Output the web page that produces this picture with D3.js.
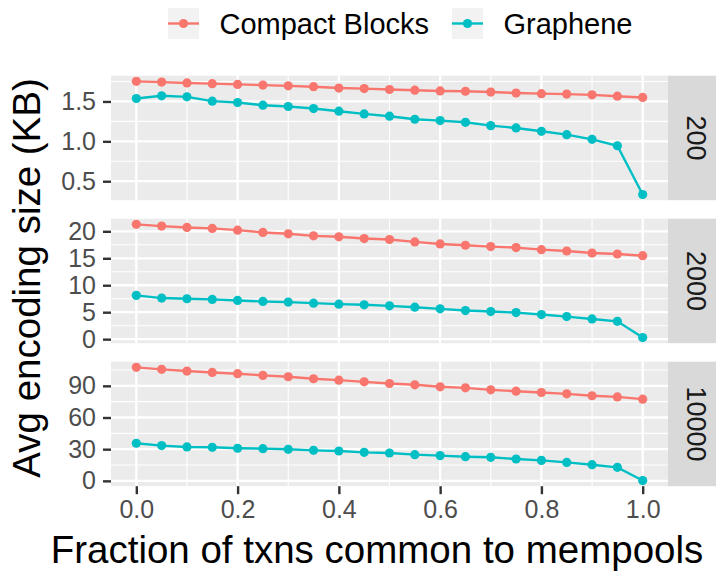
<!DOCTYPE html>
<html>
<head>
<meta charset="utf-8">
<script src="https://cdn.jsdelivr.net/npm/d3@7"></script>
<style>
  html, body { margin: 0; padding: 0; background: #ffffff; }
  svg { display: block; }
  text { font-family: "Liberation Sans", Arial, Helvetica, sans-serif; }
</style>
</head>
<body>
<svg id="chart" width="716" height="571"></svg>
<script>
// Fraction of transactions shared between sender and receiver mempools
const fractions = [0.00, 0.05, 0.10, 0.15, 0.20, 0.25, 0.30, 0.35, 0.40, 0.45, 0.50,
                   0.55, 0.60, 0.65, 0.70, 0.75, 0.80, 0.85, 0.90, 0.95, 1.00];

// Block sizes (number of transactions), one facet row each
const blockSizes = ["200", "2000", "10000"];
const protocols = ["Compact Blocks", "Graphene"];

// Average encoding size in KB
const compact200 = [1.752, 1.743, 1.732, 1.723, 1.714, 1.705, 1.696, 1.685, 1.668, 1.661, 1.650,
                    1.641, 1.632, 1.628, 1.618, 1.606, 1.598, 1.592, 1.583, 1.566, 1.550];
const graphene200 = [1.537, 1.571, 1.558, 1.504, 1.487, 1.453, 1.437, 1.411, 1.378, 1.344, 1.315,
                     1.277, 1.260, 1.239, 1.197, 1.168, 1.126, 1.084, 1.025, 0.945, 0.333];
const compact2000 = [21.29, 20.97, 20.72, 20.54, 20.22, 19.79, 19.54, 19.16, 18.98, 18.66, 18.48,
                     18.04, 17.66, 17.42, 17.17, 16.98, 16.60, 16.35, 15.98, 15.79, 15.48];
const graphene2000 = [8.12, 7.62, 7.49, 7.37, 7.18, 6.99, 6.87, 6.68, 6.49, 6.37, 6.18,
                      5.93, 5.62, 5.31, 5.12, 4.93, 4.56, 4.18, 3.75, 3.31, 0.30];
const compact10000 = [107.5, 105.6, 104.0, 102.7, 101.5, 99.9, 98.6, 96.7, 95.4, 93.8, 92.2,
                      91.0, 89.1, 88.1, 86.2, 84.9, 83.7, 82.4, 80.6, 79.5, 77.4];
const graphene10000 = [35.6, 33.4, 32.1, 31.8, 30.9, 30.5, 29.9, 28.9, 28.3, 27.0, 26.4,
                       24.8, 23.9, 22.9, 22.3, 20.7, 19.4, 17.5, 15.3, 12.8, 0.3];

// Tick labels
const xTicks = [0.0, 0.2, 0.4, 0.6, 0.8, 1.0];
const yTicks200 = [0.5, 1.0, 1.5];
const yTicks2000 = [0, 5, 10, 15, 20];
const yTicks10000 = [0, 30, 60, 90];

const colors = ["#F8766D", "#00BFC4"];

const facets = [
  { label: blockSizes[0], series: [compact200, graphene200], ticks: yTicks200, fmt: d3.format(".1f") },
  { label: blockSizes[1], series: [compact2000, graphene2000], ticks: yTicks2000, fmt: d3.format("d") },
  { label: blockSizes[2], series: [compact10000, graphene10000], ticks: yTicks10000, fmt: d3.format("d") }
];

// ---- layout ----
const panelLeft = 111, panelRight = 668, stripWidth = 48;
const panelTop0 = 75.7, panelHeight = 124.5, panelGap = 18.5;
const tickFont = "25px";

const svg = d3.select("#chart");

// x scale with ggplot-style 5% expansion
const xExtent = d3.extent(fractions);
const xPad = (xExtent[1] - xExtent[0]) * 0.05;
const x = d3.scaleLinear()
  .domain([xExtent[0] - xPad, xExtent[1] + xPad])
  .range([panelLeft, panelRight]);

const xMinor = d3.range(0.1, 1.0, 0.2);

const line = d3.line();

facets.forEach((f, i) => {
  const top = panelTop0 + i * (panelHeight + panelGap);
  const bottom = top + panelHeight;
  const all = f.series.flat();
  const lo = d3.min(all), hi = d3.max(all);
  const pad = (hi - lo) * 0.05;
  const y = d3.scaleLinear().domain([lo - pad, hi + pad]).range([bottom, top]);

  const g = svg.append("g");

  // panel background
  g.append("rect")
    .attr("x", panelLeft).attr("y", top)
    .attr("width", panelRight - panelLeft).attr("height", panelHeight)
    .attr("fill", "#EBEBEB");

  // minor y grid: midpoints between majors, extended within the domain
  const step = f.ticks[1] - f.ticks[0];
  const yMinor = [];
  for (let v = f.ticks[0] - step / 2; v <= y.domain()[1]; v += step) {
    if (v >= y.domain()[0]) yMinor.push(v);
  }
  g.selectAll(".ymin").data(yMinor).join("line")
    .attr("x1", panelLeft).attr("x2", panelRight)
    .attr("y1", d => y(d)).attr("y2", d => y(d))
    .attr("stroke", "#ffffff").attr("stroke-width", 1.1);
  g.selectAll(".xmin").data(xMinor).join("line")
    .attr("x1", d => x(d)).attr("x2", d => x(d))
    .attr("y1", top).attr("y2", bottom)
    .attr("stroke", "#ffffff").attr("stroke-width", 1.1);

  // major grid
  g.selectAll(".ymaj").data(f.ticks).join("line")
    .attr("x1", panelLeft).attr("x2", panelRight)
    .attr("y1", d => y(d)).attr("y2", d => y(d))
    .attr("stroke", "#ffffff").attr("stroke-width", 2.3);
  g.selectAll(".xmaj").data(xTicks).join("line")
    .attr("x1", d => x(d)).attr("x2", d => x(d))
    .attr("y1", top).attr("y2", bottom)
    .attr("stroke", "#ffffff").attr("stroke-width", 2.3);

  // y axis
  const yAxis = d3.axisLeft(y).tickValues(f.ticks).tickFormat(f.fmt)
    .tickSize(8).tickPadding(7);
  const ya = g.append("g").attr("transform", `translate(${panelLeft},0)`).call(yAxis);
  ya.select(".domain").remove();
  ya.selectAll(".tick line").attr("stroke", "#333333").attr("stroke-width", 2.4);
  ya.selectAll(".tick text")
    .attr("fill", "#4D4D4D").style("font-size", tickFont)
    .style("font-family", "'Liberation Sans', Arial, sans-serif");

  // series
  f.series.forEach((vals, s) => {
    const pts = fractions.map((fx, k) => [x(fx), y(vals[k])]);
    g.append("path")
      .attr("d", line(pts))
      .attr("fill", "none")
      .attr("stroke", colors[s])
      .attr("stroke-width", 2.4);
    g.selectAll(".pt" + s).data(pts).join("circle")
      .attr("cx", d => d[0]).attr("cy", d => d[1])
      .attr("r", 4.6).attr("fill", colors[s]);
  });

  // strip on the right
  g.append("rect")
    .attr("x", panelRight).attr("y", top)
    .attr("width", stripWidth).attr("height", panelHeight)
    .attr("fill", "#D9D9D9");
  g.append("text")
    .attr("transform", `translate(${panelRight + 29},${(top + bottom) / 2}) rotate(90)`)
    .attr("text-anchor", "middle")
    .attr("dy", "0.36em")
    .attr("fill", "#1A1A1A")
    .style("font-size", "27px")
    .text(f.label);

  // x axis on the bottom panel only
  if (i === facets.length - 1) {
    const xAxis = d3.axisBottom(x).tickValues(xTicks).tickFormat(d3.format(".1f"))
      .tickSize(8).tickPadding(6);
    const xa = g.append("g").attr("transform", `translate(0,${bottom})`).call(xAxis);
    xa.select(".domain").remove();
    xa.selectAll(".tick line").attr("stroke", "#333333").attr("stroke-width", 2.4);
    xa.selectAll(".tick text")
      .attr("fill", "#4D4D4D").style("font-size", tickFont)
      .style("font-family", "'Liberation Sans', Arial, sans-serif");
  }
});

// axis titles
const panelsBottom = panelTop0 + 3 * panelHeight + 2 * panelGap;
svg.append("text")
  .attr("x", 377).attr("y", 563)
  .attr("text-anchor", "middle")
  .attr("fill", "#000000")
  .style("font-size", "38.5px")
  .text("Fraction of txns common to mempools");

svg.append("text")
  .attr("transform", `translate(40,${(panelTop0 + panelsBottom) / 2 - 3}) rotate(-90)`)
  .attr("text-anchor", "middle")
  .attr("fill", "#000000")
  .style("font-size", "38.5px")
  .text("Avg encoding size (KB)");

// legend
const legendKeys = [168, 452];
const legendLabels = [219.5, 503.5];
protocols.forEach((p, s) => {
  const lg = svg.append("g");
  lg.append("rect")
    .attr("x", legendKeys[s]).attr("y", 8)
    .attr("width", 31).attr("height", 31)
    .attr("fill", "#F2F2F2");
  lg.append("line")
    .attr("x1", legendKeys[s]).attr("x2", legendKeys[s] + 31)
    .attr("y1", 23.5).attr("y2", 23.5)
    .attr("stroke", colors[s]).attr("stroke-width", 2.4);
  lg.append("circle")
    .attr("cx", legendKeys[s] + 15.5).attr("cy", 23.5)
    .attr("r", 4.6).attr("fill", colors[s]);
  lg.append("text")
    .attr("x", legendLabels[s]).attr("y", 33.5)
    .attr("fill", "#000000")
    .style("font-size", "29px")
    .text(p);
});
</script>
</body>
</html>
